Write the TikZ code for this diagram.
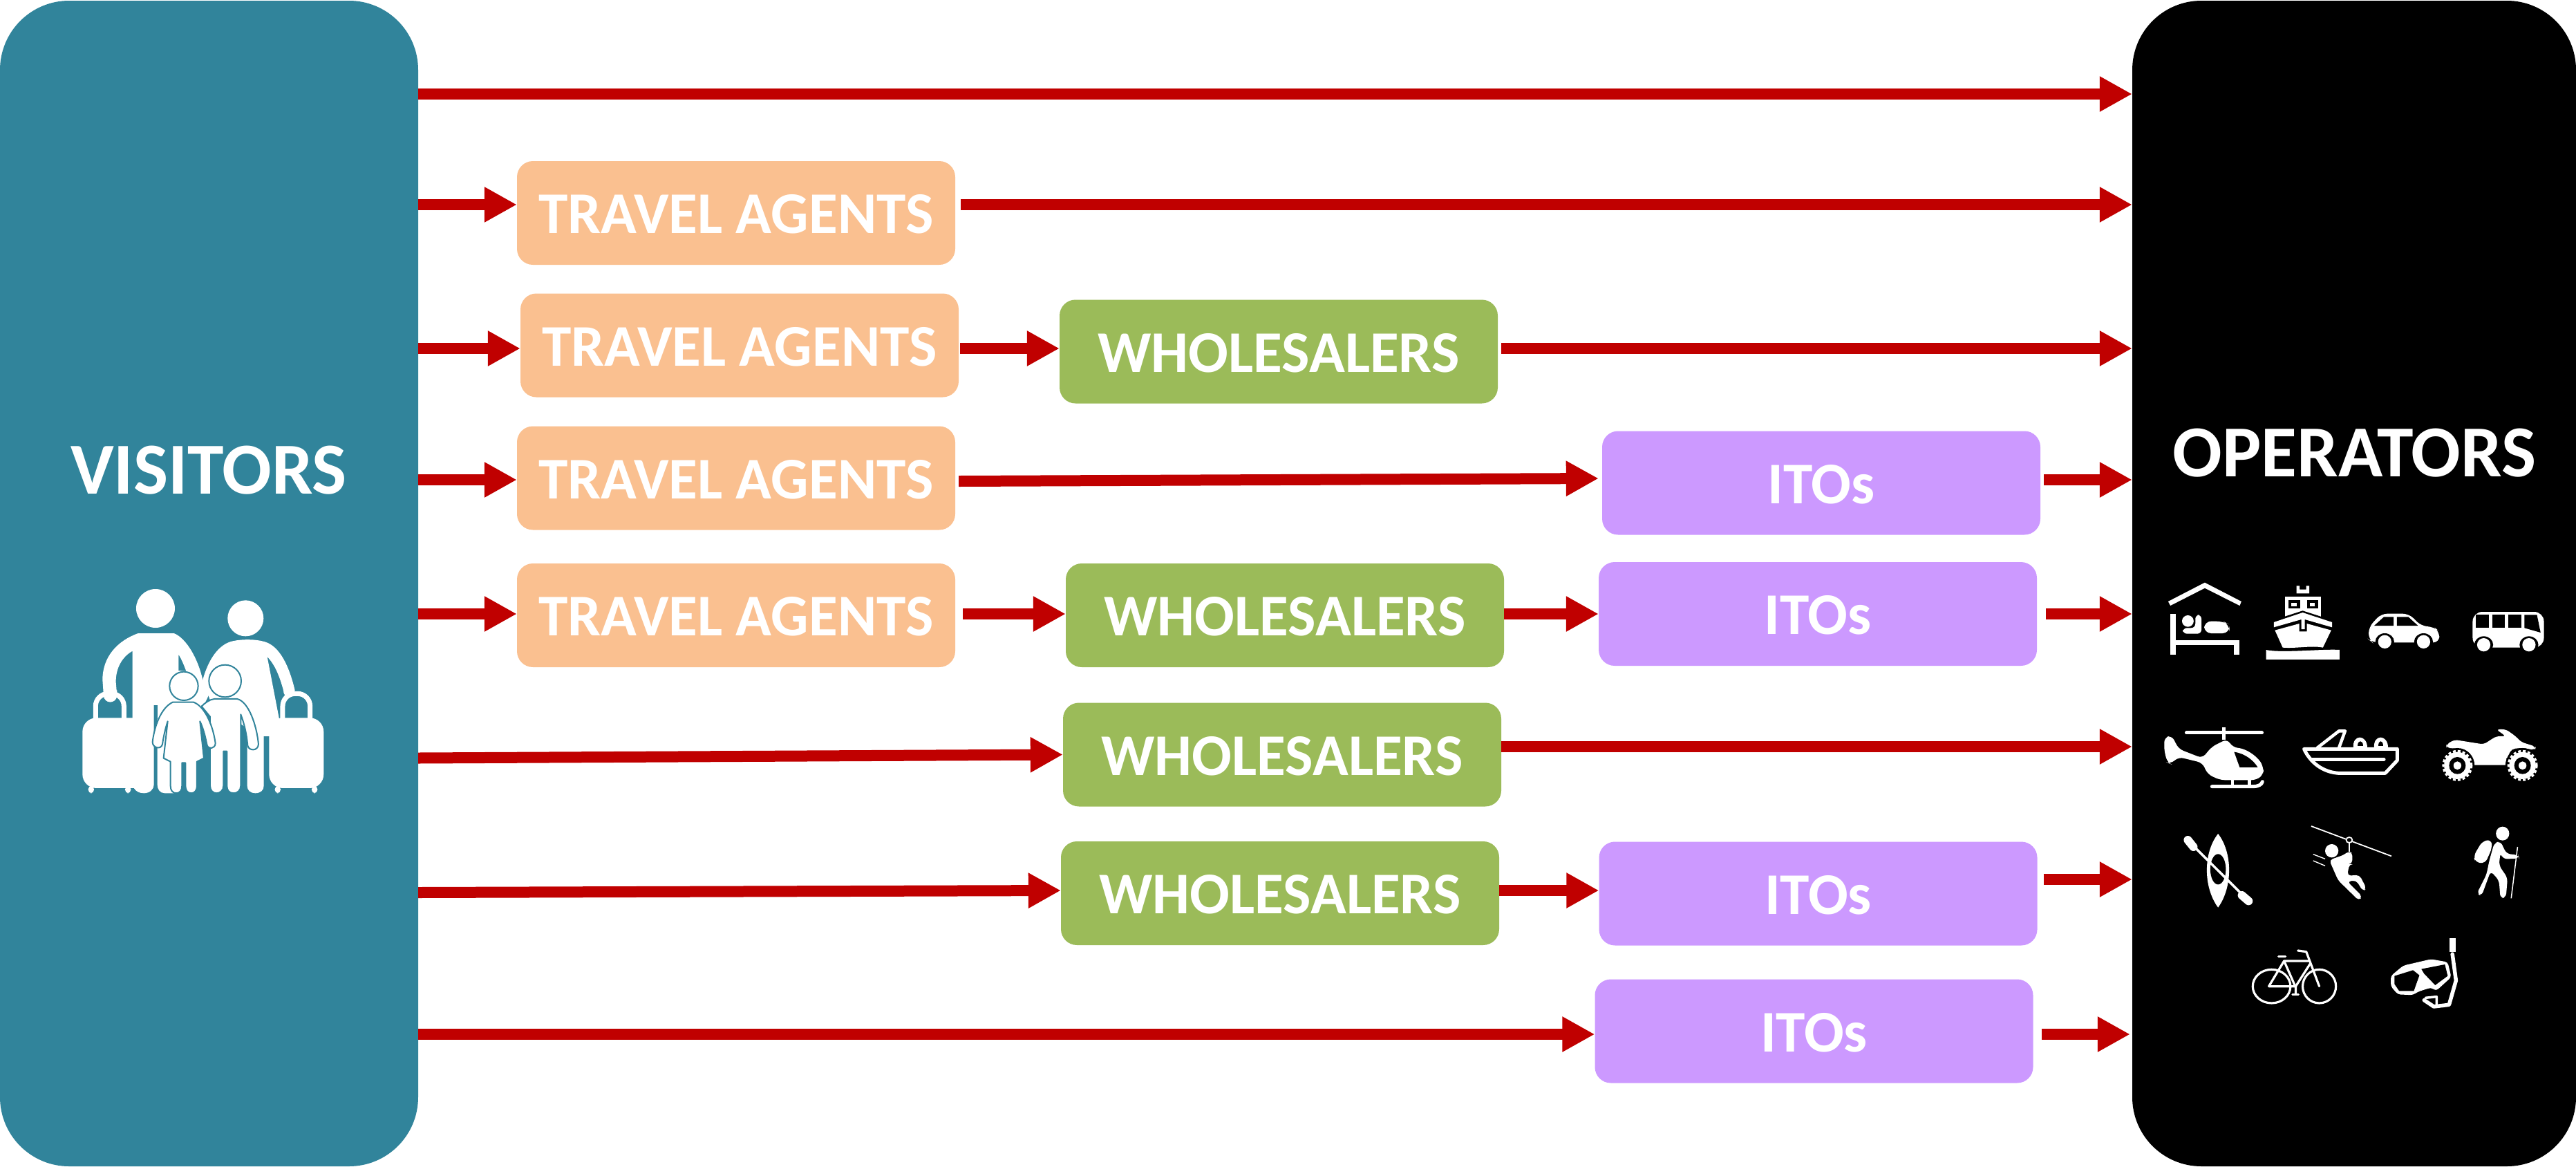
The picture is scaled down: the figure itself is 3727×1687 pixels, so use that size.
\documentclass[tikz,border=0pt]{standalone}
\usepackage{fontspec}
\setmainfont{Carlito}
\usetikzlibrary{arrows.meta,calc}
\definecolor{vteal}{HTML}{31849B}
\definecolor{peach}{HTML}{FAC090}
\definecolor{wgreen}{HTML}{9BBB59}
\definecolor{ipurple}{HTML}{CC99FF}
\definecolor{ared}{HTML}{C00000}
\tikzset{
  side/.style={rounded corners=100pt,minimum height=1686pt,inner sep=0pt,draw=none},
  chanbox/.style={rounded corners=23pt,minimum width=634pt,minimum height=150pt,inner sep=0pt,text=white,text height=59pt,text depth=0pt,font=\fontsize{85.5}{85.5}\selectfont\bfseries},
  agent/.style={chanbox,fill=peach},
  whole/.style={chanbox,fill=wgreen},
  ito/.style={chanbox,fill=ipurple},
  title/.style={text=white,inner sep=0pt,font=\fontsize{106}{106}\selectfont\bfseries},
  flow/.style={draw=ared,line width=16pt,-{Triangle[length=47pt,width=48pt]}},
  wf/.style={fill=white,draw=none},
  ws/.style={draw=white,line cap=round,line join=round},
  kidline/.style={fill=white,draw=vteal,line width=2pt,line join=round},
}
\newcommand{\carwheel}[2]{\fill[black] (#1,#2) ellipse [x radius=34,y radius=37]; \fill[white] (#1,#2) ellipse [x radius=24,y radius=29];}
\begin{document}
\begin{tikzpicture}[x=1pt,y=-1pt]
\useasboundingbox (0,0) rectangle (3727,1687);
% side panels
\node[side,fill=vteal,minimum width=605pt] (vis) at (302.5,844) {};
\node[side,fill=black,minimum width=642pt] (op) at (3406,844) {};
\node[title] (vistitle) at (302,680) {VISITORS};
\node[title] (optitle) at (3406.5,655) {OPERATORS};
% channel boxes
\node[agent] (ta2) at (1065,308) {TRAVEL AGENTS};
\node[agent] (ta3) at (1070,499.5) {TRAVEL AGENTS};
\node[whole] (w3) at (1850,508.5) {WHOLESALERS};
\node[agent] (ta4) at (1065,691.5) {TRAVEL AGENTS};
\node[ito] (i4) at (2635,698.5) {ITOs};
\node[agent] (ta5) at (1065,890) {TRAVEL AGENTS};
\node[whole] (w5) at (1859,890) {WHOLESALERS};
\node[ito] (i5) at (2630,888) {ITOs};
\node[whole] (w6) at (1855,1091.5) {WHOLESALERS};
\node[whole] (w7) at (1852,1292) {WHOLESALERS};
\node[ito] (i7) at (2630.5,1292.5) {ITOs};
\node[ito] (i8) at (2624.5,1491.5) {ITOs};
% rows for the free-running arrows
\coordinate (r1) at (0,136);
\coordinate (r2) at (0,296);
\coordinate (r3) at (0,504);
\coordinate (r4) at (0,694);
\coordinate (r5) at (0,888);
\coordinate (r6) at (0,1080);
\coordinate (r7) at (0,1272);
\coordinate (r7b) at (0,1288);
\coordinate (r8) at (0,1496);
% connectors
\draw[flow] (vis.east |- r1) -- (op.west |- r1);
\draw[flow] (vis.east |- r2) -- (ta2.west |- r2);
\draw[flow] ([xshift=8pt]ta2.east |- r2) -- (op.west |- r2);
\draw[flow] (vis.east |- r3) -- (ta3.west |- r3);
\draw[flow] ([xshift=2pt]ta3.east |- r3) -- (w3.west |- r3);
\draw[flow] ([xshift=5pt]w3.east |- r3) -- (op.west |- r3);
\draw[flow] (vis.east |- r4) -- (ta4.west |- r4);
\draw[flow] ([xshift=5pt,yshift=-2pt]ta4.east |- r4) -- ([xshift=-5pt,yshift=2pt]i4.west |- r4);
\draw[flow] ([xshift=5pt]i4.east |- r4) -- (op.west |- r4);
\draw[flow] (vis.east |- r5) -- (ta5.west |- r5);
\draw[flow] ([xshift=11pt]ta5.east |- r5) -- (w5.west |- r5);
\draw[flow] (w5.east |- r5) -- (i5.west |- r5);
\draw[flow] ([xshift=13pt]i5.east |- r5) -- (op.west |- r5);
\draw[flow] ([yshift=-5pt]vis.east |- w6.west) -- (w6.west);
\draw[flow] (w6.east |- r6) -- (op.west |- r6);
\draw[flow] ([yshift=-3pt]vis.east |- r7b) -- (w7.west |- r7b);
\draw[flow] (w7.east |- r7b) -- (i7.west |- r7b);
\draw[flow] ([xshift=9pt]i7.east |- r7) -- (op.west |- r7);
\draw[flow] (vis.east |- r8) -- (i8.west |- r8);
\draw[flow] ([xshift=12pt]i8.east |- r8) -- ([xshift=-3pt]op.west |- r8);
% family icon
\begin{scope}[shift={(80,820)},x=0.3333pt,y=-0.3333pt]
  % father
  \fill[wf] (435,180) circle [radius=84];
  \fill[wf] (360,288) -- (515,288) .. controls (570,310) and (620,400) .. (640,490) -- (672,545) -- (640,610) -- (535,610) -- (535,450) -- (568,452) .. controls (560,430) and (548,400) .. (535,380) -- (535,610) -- (535,950) -- (520,982) -- (475,982) .. controls (455,982) and (443,965) .. (443,945) -- (443,600) -- (428,600) -- (428,945) .. controls (428,965) and (410,982) .. (385,982) .. controls (365,982) and (350,975) .. (340,958) -- (335,655) -- (335,365) .. controls (290,390) and (262,440) .. (263,500) -- (268,560) .. controls (262,595) and (215,595) .. (210,560) -- (205,490) .. controls (205,390) and (270,320) .. (360,288) -- cycle;
  % mother
  \fill[wf] (826,223) circle [radius=78];
  \fill[wf] (640,490) .. controls (665,400) and (710,335) .. (770,322) .. controls (810,313) and (870,313) .. (910,325) .. controls (975,345) and (1015,430) .. (1040,535) .. controls (1035,572) and (990,575) .. (990,535) .. controls (975,480) and (955,425) .. (920,390) -- (972,660) -- (972,735) -- (905,735) -- (905,950) .. controls (905,970) and (890,982) .. (868,982) .. controls (848,982) and (833,970) .. (833,950) -- (833,700) -- (680,600) -- cycle;
  % suitcases
  \fill[wf,rounded corners=20] (118,655) rectangle (420,960);
  \fill[wf,rounded corners=20] (928,655) rectangle (1165,960);
  \fill[wf,rounded corners=5] (143,950) rectangle (168,982);
  \fill[wf,rounded corners=5] (303,950) rectangle (328,982);
  \fill[wf,rounded corners=5] (953,950) rectangle (978,982);
  \fill[wf,rounded corners=5] (1113,950) rectangle (1138,982);
  \draw[white,line width=7pt,rounded corners=18] (175,665) -- (175,550) -- (298,550) -- (298,665);
  \draw[white,line width=7pt,rounded corners=18] (987,665) -- (987,550) -- (1106,550) -- (1106,665);
  \fill[wf] (210,535) -- (268,535) -- (268,560) .. controls (262,595) and (215,595) .. (210,560) -- cycle;
  \fill[vteal] (428,600) rectangle (443,660);
  % boy
  \draw[kidline] (737,495) circle [radius=70];
  \draw[kidline] (635,605) .. controls (650,590) and (670,575) .. (690,573) -- (790,573) .. controls (840,585) and (875,690) .. (882,770) .. controls (880,800) and (840,800) .. (835,775) .. controls (830,720) and (820,680) .. (805,640) -- (805,950) .. controls (805,970) and (790,982) .. (775,982) .. controls (755,982) and (745,970) .. (745,950) -- (745,800) -- (730,800) -- (730,950) .. controls (730,970) and (715,982) .. (700,982) .. controls (685,982) and (672,970) .. (672,950) -- (672,650) -- cycle;
  % girl
  \draw[kidline] (558,517) circle [radius=62];
  \draw[kidline] (510,587) -- (600,587) .. controls (650,605) and (685,690) .. (695,765) .. controls (695,790) and (662,795) .. (658,770) .. controls (650,730) and (642,700) .. (628,670) -- (645,830) -- (615,845) -- (615,950) .. controls (615,970) and (605,982) .. (590,982) .. controls (575,982) and (565,970) .. (565,950) -- (565,850) -- (550,850) -- (550,950) .. controls (550,970) and (540,982) .. (525,982) .. controls (510,982) and (500,970) .. (500,950) -- (500,845) -- (470,830) -- (488,670) .. controls (478,700) and (470,735) .. (465,770) .. controls (458,795) and (422,785) .. (422,760) .. controls (430,690) and (460,610) .. (510,587) -- cycle;
\end{scope}
% transport and lodging icons
\begin{scope}[shift={(3100,820)},x=0.4012pt,y=-0.3333pt]
  % bed
  \fill[wf] (92,150) -- (224,68) -- (356,150) -- (350,168) -- (224,92) -- (100,168) -- cycle;
  \fill[wf] (100,205) rectangle (120,382);
  \fill[wf] (100,318) rectangle (348,338);
  \fill[wf] (328,318) rectangle (348,382);
  \fill[wf] (163,235) ellipse [x radius=21,y radius=25];
  \fill[wf,rounded corners=6] (145,265) -- (190,265) -- (190,208) -- (212,208) -- (212,290) -- (145,290) -- cycle;
  \fill[wf,rounded corners=10] (222,236) -- (290,236) -- (313,250) -- (313,288) -- (222,288) -- cycle;
  % ship
  \fill[wf] (555,82) -- (566,82) -- (566,98) -- (590,98) -- (590,82) -- (601,82) -- (601,115) -- (555,115) -- cycle;
  \fill[wf] (513,128) rectangle (642,215);
  \fill[black] (525,143) rectangle (568,180);
  \fill[black] (592,143) rectangle (632,180);
  \fill[wf] (536,155) rectangle (555,170);
  \fill[wf] (603,155) rectangle (620,170);
  \fill[black] (513,215) -- (577,190) -- (642,215) -- (642,225) -- (513,225) -- cycle;
  \fill[wf] (473,240) -- (577,198) -- (683,240) -- (683,262) -- (585,228) -- (585,270) -- (572,270) -- (572,228) -- (473,262) -- cycle;
  \fill[wf] (477,275) -- (565,246) -- (565,280) -- (592,280) -- (592,246) -- (680,275) -- (650,350) .. controls (610,340) and (550,355) .. (505,350) -- cycle;
  \fill[wf] (445,360) .. controls (500,375) and (650,355) .. (710,360) -- (710,402) -- (445,402) -- cycle;
  % car
  \fill[wf,rounded corners=9] (815,262) -- (860,203) -- (960,203) -- (1005,257) -- (1050,260) -- (1070,280) -- (1070,328) -- (828,328) -- (815,315) -- cycle;
  \fill[black] (835,255) -- (870,217) -- (905,217) -- (905,255) -- cycle;
  \fill[black] (917,217) -- (958,217) -- (993,255) -- (917,255) -- cycle;
  \carwheel{873}{325}
  \carwheel{1013}{325}
  % bus
  \fill[wf,rounded corners=14] (1190,195) rectangle (1447,350);
  \fill[black] (1202,208) rectangle (1248,265);
  \fill[black] (1260,208) rectangle (1306,265);
  \fill[black] (1318,208) rectangle (1365,265);
  \fill[black] (1377,208) -- (1422,208) -- (1435,285) -- (1377,265) -- cycle;
  \carwheel{1230}{338}
  \carwheel{1393}{338}
  % helicopter
  \draw[ws,line width=5pt] (158,720) -- (430,720);
  \fill[wf] (287,695) rectangle (300,750);
  \fill[wf,rounded corners=7] (78,740) -- (105,732) -- (130,790) -- (215,830) -- (250,780) -- (305,747) -- (325,783) .. controls (380,790) and (420,830) .. (436,875) -- (436,900) -- (410,925) -- (280,925) -- (235,900) -- (215,850) -- (130,825) -- (100,855) -- (90,850) -- (78,800) -- cycle;
  \fill[black] (330,803) .. controls (370,810) and (400,840) .. (415,870) -- (350,870) -- cycle;
  \fill[wf] (318,920) rectangle (330,950);
  \fill[wf] (378,920) rectangle (390,950);
  \draw[ws,line width=5pt] (250,953) -- (400,953) .. controls (415,953) and (430,945) .. (432,932);
  % motor boat
  \draw[ws,line width=5pt] (582,790) -- (918,790) -- (918,840) -- (875,895) -- (705,895) .. controls (650,890) and (605,850) .. (582,790) -- cycle;
  \draw[ws,line width=5pt] (612,835) -- (870,835);
  \draw[ws,line width=4.5pt] (630,785) -- (708,712) -- (730,712) -- (708,785);
  \fill[wf] (760,785) .. controls (755,725) and (810,725) .. (810,785) -- cycle;
  \fill[wf] (835,785) .. controls (830,725) and (885,725) .. (885,785) -- cycle;
  \fill[black] (776,778) .. controls (776,750) and (794,750) .. (794,778) -- cycle;
  \fill[black] (850,778) .. controls (850,750) and (868,750) .. (868,778) -- cycle;
  % quad bike
  \fill[wf,rounded corners=5] (1095,770) -- (1125,750) -- (1230,770) -- (1275,735) -- (1310,735) -- (1275,705) -- (1310,705) -- (1345,735) -- (1365,760) -- (1418,780) -- (1415,795) -- (1370,785) -- (1330,790) -- (1310,840) -- (1180,860) -- (1185,830) -- (1150,790) -- (1095,785) -- cycle;
  \fill[wf] (1180,835) -- (1300,800) -- (1320,860) -- (1180,860) -- cycle;
  \foreach \wx in {1135,1370}{
    \fill[black] (\wx,862) ellipse [x radius=62,y radius=76];
    \draw[white,line width=3pt,dash pattern=on 4pt off 3pt] (\wx,862) ellipse [x radius=51,y radius=63];
    \fill[wf] (\wx,862) ellipse [x radius=48,y radius=59];
    \fill[black] (\wx,862) ellipse [x radius=30,y radius=37];
    \fill[wf] (\wx,862) ellipse [x radius=14,y radius=18];
  }
\end{scope}
% activity icons
\begin{scope}[shift={(3100,1170)},x=0.4012pt,y=-0.3333pt]
  % kayak
  \fill[wf] (272,108) .. controls (325,190) and (325,340) .. (272,428) .. controls (218,340) and (218,190) .. (272,108) -- cycle;
  \fill[black] (272,262) ellipse [x radius=28,y radius=66];
  \draw[ws,line width=3.5pt] (170,145) -- (370,385);
  \draw[ws,line width=12pt] (163,135) -- (183,165);
  \draw[ws,line width=12pt] (358,375) -- (382,400);
  % zipline
  \draw[white,line width=1.8pt] (608,75) -- (897,205);
  \fill[black] (745,135) circle [radius=13];
  \draw[white,line width=1.8pt] (745,135) ellipse [x radius=11,y radius=12];
  \draw[white,line width=1.8pt] (745,148) -- (745,185);
  \fill[wf] (682,182) ellipse [x radius=24,y radius=29];
  \draw[white,line width=1.4pt] (615,197) -- (658,217);
  \draw[white,line width=1.4pt] (615,225) -- (658,247);
  \fill[wf,rounded corners=5] (673,222) -- (725,200) -- (745,182) -- (757,195) -- (755,240) -- (745,240) -- (738,290) -- (782,287) -- (807,345) -- (795,358) -- (770,310) -- (738,315) -- (792,380) -- (780,398) -- (705,310) -- cycle;
  % hiker
  \fill[wf] (1298,107) ellipse [x radius=24,y radius=30];
  \fill[wf,rounded corners=7] (1193,205) -- (1225,140) -- (1258,133) -- (1260,170) -- (1235,237) -- (1200,232) -- cycle;
  \fill[wf,rounded corners=6] (1268,148) -- (1290,140) -- (1312,195) -- (1355,200) -- (1358,215) -- (1300,218) -- (1290,190) -- (1285,245) -- (1316,300) -- (1310,385) -- (1290,388) -- (1285,310) -- (1255,270) -- (1222,378) -- (1205,368) -- (1240,285) -- (1250,225) -- cycle;
  \draw[white,line width=1.5pt] (1352,165) -- (1329,388);
  % bicycle
  \draw[white,line width=3.2pt] (465,770) ellipse [x radius=68,y radius=73];
  \draw[white,line width=3.2pt] (637,770) ellipse [x radius=60,y radius=73];
  \draw[ws,line width=3.2pt] (637,770) -- (590,620) -- (560,615);
  \draw[ws,line width=3.2pt] (455,770) -- (510,660) -- (600,660);
  \draw[ws,line width=3.2pt] (455,770) -- (552,770) -- (605,670);
  \draw[ws,line width=3.2pt] (510,660) -- (552,775) -- (552,805);
  \draw[ws,line width=3.2pt] (490,640) -- (515,640);
  \draw[ws,line width=2.5pt] (540,805) -- (562,805);
  % snorkel mask
  \fill[wf,rounded corners=4] (895,725) -- (940,680) -- (1040,652) -- (1100,665) -- (1113,730) -- (1058,790) -- (1040,775) -- (990,795) -- (975,808) -- (920,805) -- (895,770) -- cycle;
  \fill[black] (908,725) -- (975,700) -- (998,722) -- (978,790) -- (925,790) -- (908,760) -- cycle;
  \fill[black] (1005,695) -- (1090,675) -- (1100,725) -- (1055,765) -- (1015,715) -- cycle;
  \fill[wf] (995,790) -- (1015,745) -- (1042,775) -- cycle;
  \fill[wf] (1107,560) rectangle (1128,620);
  \draw[ws,line width=5.5pt] (1117,630) -- (1130,745) -- (1105,850) -- (1050,858) -- (1015,830);
  \draw[ws,line width=3.5pt] (1060,855) -- (1060,815) -- (1020,820);
\end{scope}
\end{tikzpicture}
\end{document}
